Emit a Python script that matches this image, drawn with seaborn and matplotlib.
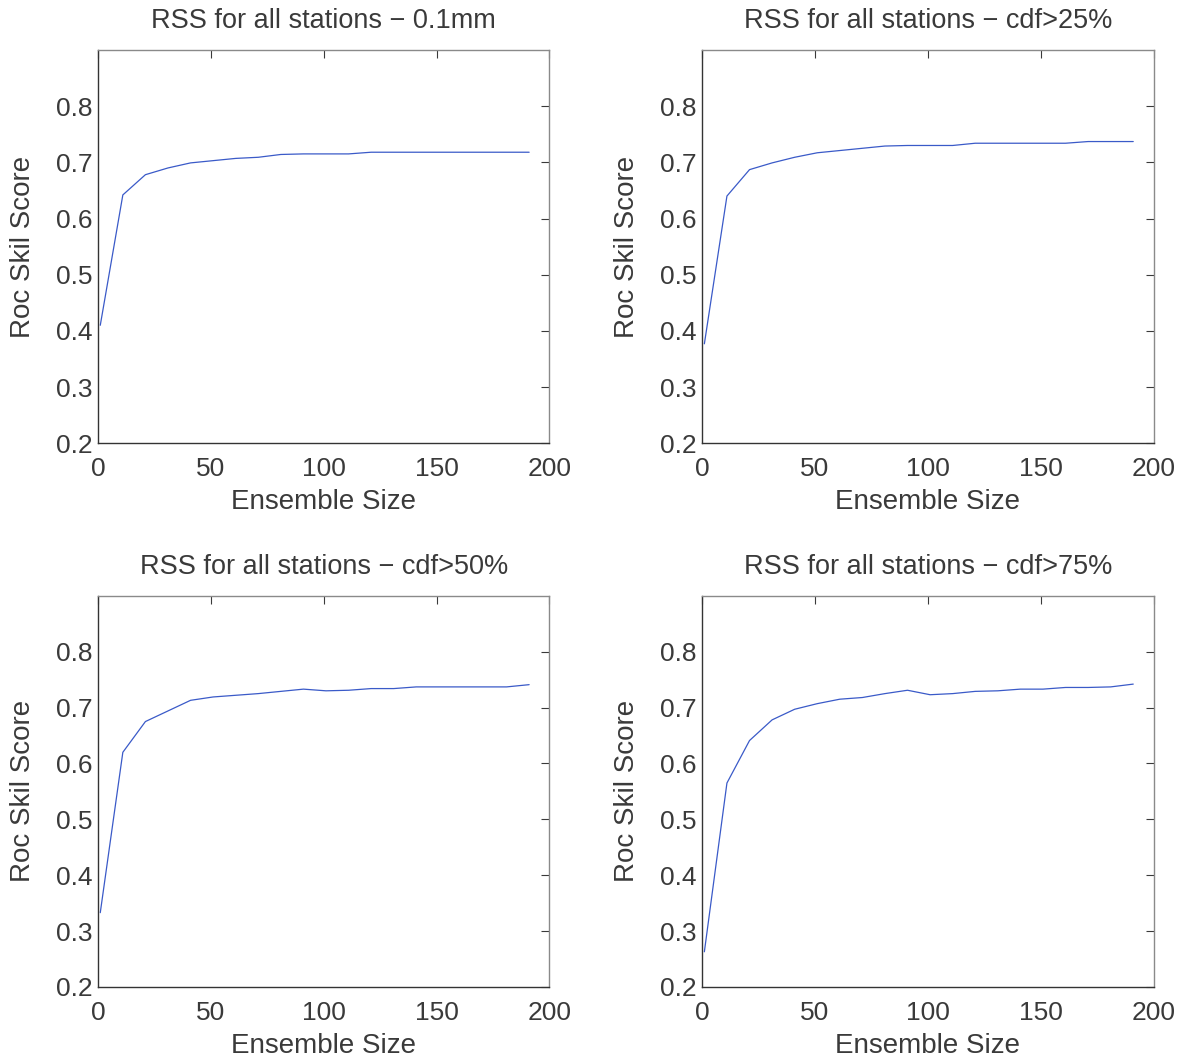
import matplotlib
matplotlib.use("Agg")
import matplotlib.pyplot as plt
import seaborn as sns
import pandas as pd

ensemble_size = [1, 11, 21, 31, 41, 51, 61, 71, 81, 91,
                 101, 111, 121, 131, 141, 151, 161, 171, 181, 191]

rss_01mm = [0.410, 0.642, 0.678, 0.690, 0.699, 0.703, 0.707, 0.709, 0.714, 0.715,
            0.715, 0.715, 0.718, 0.718, 0.718, 0.718, 0.718, 0.718, 0.718, 0.718]
rss_cdf25 = [0.377, 0.640, 0.687, 0.699, 0.709, 0.717, 0.721, 0.725, 0.729, 0.730,
             0.730, 0.730, 0.734, 0.734, 0.734, 0.734, 0.734, 0.737, 0.737, 0.737]
rss_cdf50 = [0.333, 0.620, 0.675, 0.694, 0.713, 0.719, 0.722, 0.725, 0.729, 0.733,
             0.730, 0.731, 0.734, 0.734, 0.737, 0.737, 0.737, 0.737, 0.737, 0.741]
rss_cdf75 = [0.263, 0.565, 0.641, 0.678, 0.697, 0.707, 0.715, 0.718, 0.725, 0.731,
             0.723, 0.725, 0.729, 0.730, 0.733, 0.733, 0.736, 0.736, 0.737, 0.742]

titles = ["RSS for all stations \u2212 0.1mm", "RSS for all stations \u2212 cdf>25%",
          "RSS for all stations \u2212 cdf>50%", "RSS for all stations \u2212 cdf>75%"]
series = [rss_01mm, rss_cdf25, rss_cdf50, rss_cdf75]

sns.set_theme(style="white")
plt.rcParams["font.family"] = ["Liberation Sans", "DejaVu Sans"]
plt.rcParams["text.color"] = "#3a3a3a"
plt.rcParams["axes.labelcolor"] = "#3a3a3a"
plt.rcParams["xtick.color"] = "#3a3a3a"
plt.rcParams["ytick.color"] = "#3a3a3a"

fig = plt.figure(figsize=(11.88, 10.63), dpi=100)
# axes boxes in figure fractions [left, bottom, width, height]
boxes = [[0.0825, 0.583, 0.380, 0.370],
         [0.591, 0.583, 0.380, 0.370],
         [0.0825, 0.0715, 0.380, 0.368],
         [0.591, 0.0715, 0.380, 0.368]]

for box, title, vals in zip(boxes, titles, series):
    ax = fig.add_axes(box)
    df = pd.DataFrame({"size": ensemble_size, "score": vals})
    sns.lineplot(data=df, x="size", y="score", ax=ax, color="#3a5ac8", linewidth=0.9)
    ax.set_xlim(0, 200)
    ax.set_ylim(0.2, 0.9)
    ax.set_xticks([0, 50, 100, 150, 200])
    ax.set_yticks([0.2, 0.3, 0.4, 0.5, 0.6, 0.7, 0.8])
    ax.set_yticklabels(["0.2", "0.3", "0.4", "0.5", "0.6", "0.7", "0.8"])
    ax.tick_params(direction="in", length=6, width=0.8, top=True, right=True,
                   labelsize=19)
    ax.tick_params(axis="x", pad=10)
    ax.tick_params(axis="y", pad=4)
    ax.set_xlabel("Ensemble Size", fontsize=20, labelpad=6)
    ax.set_ylabel("Roc Skil Score", fontsize=20, labelpad=14)
    ax.set_title(title, fontsize=19.5, pad=16)
    for side in ["left", "bottom"]:
        ax.spines[side].set_color("#333333")
        ax.spines[side].set_linewidth(1.0)
    for side in ["top", "right"]:
        ax.spines[side].set_color("#8a8a8a")
        ax.spines[side].set_linewidth(1.0)

plt.savefig("out.png", dpi=100)
